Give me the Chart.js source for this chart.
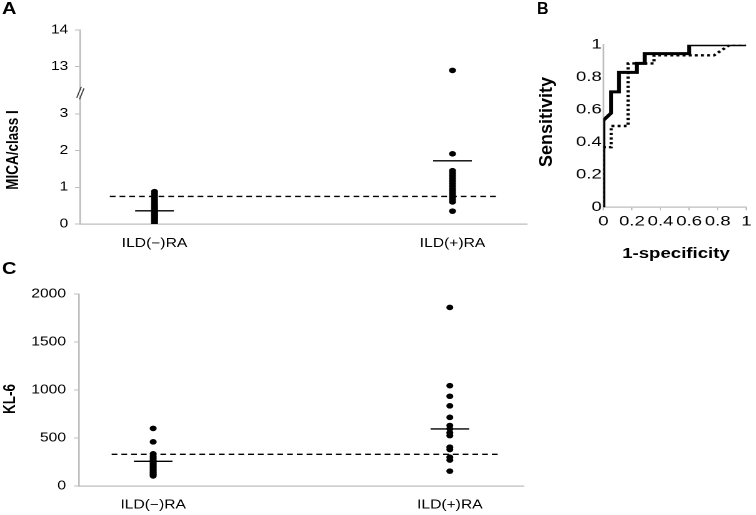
<!DOCTYPE html>
<html>
<head>
<meta charset="utf-8">
<script src="https://cdn.jsdelivr.net/npm/chart.js@4.4.1/dist/chart.umd.min.js"></script>
<style>
  body { margin: 0; background: #fff; font-family: "Liberation Sans", Arial, sans-serif; color: #000; }
  #fig { position: relative; width: 756px; height: 515px; overflow: hidden; }
  .panel { position: absolute; transform-origin: 0 0; }
  .panel canvas { position: absolute; left: 0; top: 0; }
  .letter { position: absolute; font-weight: bold; font-size: 16px; line-height: 16px; }
  .vtitle { position: absolute; font-weight: bold; white-space: nowrap; line-height: 1; transform: translate(-50%, -50%) rotate(-90deg); }
  .htitle { position: absolute; font-weight: bold; white-space: nowrap; line-height: 1; transform: translate(-50%, -50%); }
</style>
</head>
<body>
<div id="fig">
  <!-- panel A -->
  <div class="panel" style="left:0;top:0;width:448px;height:260px;transform:scaleX(1.25)">
    <canvas id="chartA" width="448" height="260"></canvas>
    <div class="letter" style="left:1.6px;top:1px">A</div>
    <div class="vtitle" style="left:9.6px;top:150px;font-size:13.5px">MICA/class I</div>
  </div>
  <!-- panel B -->
  <div class="panel" style="left:560px;top:0;width:147.4px;height:260px;transform:scaleX(1.33)">
    <canvas id="chartB" width="147" height="260"></canvas>
    <div class="htitle" style="left:87.2px;top:253px;font-size:14px">1-specificity</div>
  </div>
  <div class="letter" style="left:537px;top:1px">B</div>
  <div class="vtitle" style="left:545.5px;top:122px;font-size:18px">Sensitivity</div>
  <!-- panel C -->
  <div class="panel" style="left:0;top:260px;width:448px;height:255px;transform:scaleX(1.25)">
    <canvas id="chartC" width="448" height="255"></canvas>
    <div class="letter" style="left:1.6px;top:1px">C</div>
    <div class="vtitle" style="left:8.4px;top:139px;font-size:13.5px">KL-6</div>
  </div>
</div>

<script>
// groups on the x axis
const groups = ['ILD(−)RA', 'ILD(+)RA'];
const groupX = [0.5, 2.5];

// A: MICA/class I
const micaNeg = [0.03, 0.06, 0.09, 0.12, 0.15, 0.18, 0.21, 0.24, 0.27, 0.3, 0.33, 0.36, 0.4, 0.44, 0.48, 0.52, 0.57, 0.62, 0.67, 0.72, 0.78, 0.83, 0.88];
const micaPos = [12.9, 1.91, 1.45, 1.38, 1.31, 1.24, 1.17, 1.1, 1.03, 0.96, 0.9, 0.84, 0.78, 0.72, 0.66, 0.6, 0.35];
const micaMean = [0.36, 1.72];
const micaCutoff = 0.75;
const micaTicks = [0, 1, 2, 3, 13, 14];
const micaBreakFrom = 3.57;   // axis values above this are shifted down
const micaShift = 8.72;

// C: KL-6
const kl6Neg = [600, 460, 335, 310, 290, 270, 250, 235, 220, 205, 190, 175, 160, 145, 130, 118, 105];
const kl6Pos = [1860, 1045, 935, 835, 715, 630, 595, 555, 525, 405, 380, 300, 270, 155];
const kl6Mean = [257, 594];
const kl6Cutoff = 330;
const kl6Ticks = [0, 500, 1000, 1500, 2000];

// B: ROC curves
const rocSolidFpr = [0, 0, 0.055, 0.055, 0.11, 0.11, 0.235, 0.235, 0.29, 0.29, 0.6, 0.6, 1];
const rocSolidTpr = [0, 0.535, 0.58, 0.71, 0.71, 0.83, 0.83, 0.885, 0.885, 0.945, 0.945, 1, 1];
const rocDotFpr = [0, 0, 0.055, 0.055, 0.173, 0.173, 0.354, 0.354, 0.774, 0.885, 1];
const rocDotTpr = [0, 0.37, 0.37, 0.5, 0.5, 0.885, 0.885, 0.935, 0.935, 1, 1];
const rocTicks = [0, 0.2, 0.4, 0.6, 0.8, 1];

const AXIS = '#bdbdbd';
const INK = '#000';

Chart.defaults.font.family = '"Liberation Sans", Arial, sans-serif';
Chart.defaults.color = INK;
Chart.defaults.animation = false;

const micaToAxis = v => v > micaBreakFrom ? v - micaShift : v;
const micaFromAxis = v => v > micaBreakFrom ? Math.round(v + micaShift) : Math.round(v);

function dotDatasets(neg, pos, mean, cutoff, toAxis, cutFrom, cutTo) {
  const half = 0.13;
  return [
    {
      data: neg.map(v => ({ x: groupX[0], y: toAxis(v) })),
      backgroundColor: '#000', borderWidth: 0, pointRadius: 2.8
    },
    {
      data: pos.map(v => ({ x: groupX[1], y: toAxis(v) })),
      backgroundColor: '#000', borderWidth: 0, pointRadius: 2.8
    },
    // mean bars
    ...mean.map((m, i) => ({
      showLine: true, pointRadius: 0, borderColor: '#000', borderWidth: 1.4,
      data: [{ x: groupX[i] - half, y: toAxis(m) }, { x: groupX[i] + half, y: toAxis(m) }]
    })),
    // cutoff line
    {
      showLine: true, pointRadius: 0, borderColor: '#000', borderWidth: 1.4, borderDash: [4.6, 3.2],
      data: [{ x: cutFrom, y: toAxis(cutoff) }, { x: cutTo, y: toAxis(cutoff) }]
    }
  ];
}

function dotOptions(o) {
  return {
    responsive: false,
    devicePixelRatio: 2,
    layout: { padding: { left: 0, top: o.top, right: o.right, bottom: 0 } },
    plugins: { legend: { display: false }, tooltip: { enabled: false } },
    scales: {
      x: {
        type: 'linear', min: 0, max: 3,
        afterBuildTicks: s => { s.ticks = groupX.map(v => ({ value: v })); },
        afterFit: s => { s.height = o.xHeight; },
        border: { color: AXIS, width: 1.3 },
        grid: { drawOnChartArea: false, drawTicks: false },
        ticks: {
          padding: o.xPad, maxRotation: 0, autoSkip: false,
          font: { size: 12.5 },
          callback: v => groups[groupX.indexOf(v)]
        }
      },
      y: {
        type: 'linear', min: o.yMin, max: o.yMax,
        afterBuildTicks: s => { s.ticks = o.ticks.map(v => ({ value: v })); },
        afterFit: s => { s.width = o.yWidth; },
        border: { color: AXIS, width: 1.3 },
        grid: { drawOnChartArea: false, color: AXIS, tickLength: 4 },
        ticks: { padding: o.yPad, font: { size: 12.5 }, callback: o.label }
      }
    }
  };
}

// broken-axis marks on panel A
const axisBreak = {
  id: 'axisBreak',
  afterDraw(chart) {
    const y = chart.scales.y.getPixelForValue(micaBreakFrom);
    const x = chart.chartArea.left;
    const ctx = chart.ctx;
    ctx.save();
    ctx.fillStyle = '#fff';
    ctx.fillRect(x - 3, y - 2.5, 6, 5);
    ctx.strokeStyle = '#444';
    ctx.lineWidth = 1;
    ctx.beginPath();
    ctx.moveTo(x - 2.6, y + 5); ctx.lineTo(x + 1, y - 6);
    ctx.moveTo(x - 0.4, y + 6.5); ctx.lineTo(x + 3.2, y - 4.5);
    ctx.stroke();
    ctx.restore();
  }
};

new Chart(document.getElementById('chartA'), {
  type: 'scatter',
  data: { datasets: dotDatasets(micaNeg, micaPos, micaMean, micaCutoff, micaToAxis, 0.2, 2.8) },
  options: dotOptions({
    top: 30, right: 26.4, xHeight: 36, yWidth: 64, xPad: 12, yPad: 5.4,
    yMin: 0, yMax: micaToAxis(14),
    ticks: micaTicks.map(micaToAxis),
    label: v => micaFromAxis(v)
  }),
  plugins: [axisBreak]
});

new Chart(document.getElementById('chartC'), {
  type: 'scatter',
  data: { datasets: dotDatasets(kl6Neg, kl6Pos, kl6Mean, kl6Cutoff, v => v, 0.22, 2.83) },
  options: dotOptions({
    top: 34, right: 28.8, xHeight: 29, yWidth: 63.2, xPad: 11.5, yPad: 6.4,
    yMin: 0, yMax: 2000,
    ticks: kl6Ticks,
    label: v => v
  })
});

new Chart(document.getElementById('chartB'), {
  type: 'scatter',
  data: {
    datasets: [
      {
        showLine: true, pointRadius: 0, borderColor: '#000', borderWidth: 3, borderJoinStyle: 'miter',
        data: rocSolidFpr.map((x, i) => ({ x, y: rocSolidTpr[i] }))
      },
      {
        showLine: true, pointRadius: 0, borderColor: '#000', borderWidth: 2.4, borderDash: [2.2, 2.4],
        data: rocDotFpr.map((x, i) => ({ x, y: rocDotTpr[i] }))
      }
    ]
  },
  options: {
    responsive: false,
    devicePixelRatio: 2,
    layout: { padding: { left: 0, top: 44.7, right: 1.5, bottom: 0 } },
    plugins: { legend: { display: false }, tooltip: { enabled: false } },
    scales: {
      x: {
        type: 'linear', min: 0, max: 1,
        afterBuildTicks: s => { s.ticks = rocTicks.map(v => ({ value: v })); },
        afterFit: s => { s.height = 52.7; },
        border: { color: AXIS, width: 1.2 },
        grid: { drawOnChartArea: false, color: AXIS, tickLength: 3 },
        ticks: { padding: 3, maxRotation: 0, autoSkip: false, font: { size: 14 }, callback: v => String(v) }
      },
      y: {
        type: 'linear', min: 0, max: 1,
        afterBuildTicks: s => { s.ticks = rocTicks.map(v => ({ value: v })); },
        afterFit: s => { s.width = 32.6; },
        border: { color: AXIS, width: 1.2 },
        grid: { drawOnChartArea: false, drawTicks: false },
        ticks: { padding: 1.2, font: { size: 14 }, callback: v => String(v) }
      }
    }
  }
});
</script>
</body>
</html>
